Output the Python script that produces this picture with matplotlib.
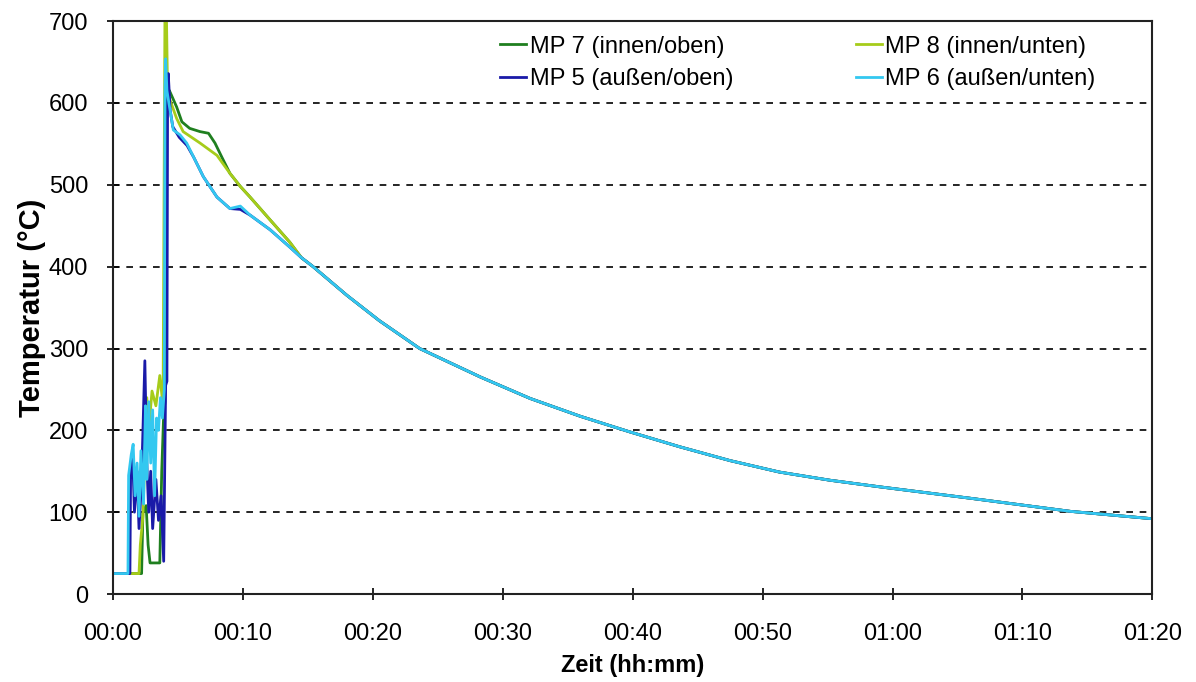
import numpy as np
import matplotlib
matplotlib.use("Agg")
import matplotlib.pyplot as plt
from matplotlib.ticker import FuncFormatter, MultipleLocator

plt.rcParams['font.family'] = ['Liberation Sans', 'DejaVu Sans']

# common cooling tail (minutes, degC), identical for all four points
tail_t = [14.5, 15.4, 18.0, 20.5, 23.6, 28.3, 32.1, 36.0, 39.8, 43.6, 47.5, 51.3, 55.2, 59.0, 66.0, 73.7, 80.0]
tail_T = [411, 400, 365, 334, 300, 265, 239, 217, 198, 180, 163, 149, 139, 131, 117, 101, 92]

# MP 7 (innen/oben)
mp7_t = [0, 2.2, 2.3, 2.55, 2.7, 2.85, 3.6, 3.75, 3.9, 4.0, 4.1, 4.3, 4.4, 4.9, 5.3, 5.9, 6.7, 7.35,
         7.85, 8.37, 9.0, 9.8, 10.55, 12.1, 13.6]
mp7_T = [25, 25, 100, 108, 60, 38, 38, 150, 220, 235, 590, 616, 613, 595, 577, 569, 565, 563,
         551, 534, 514, 498, 485, 457, 430]

# MP 8 (innen/unten)
mp8_t = [0, 2.0, 2.1, 2.3, 2.6, 2.75, 3.0, 3.3, 3.6, 3.85, 4.0, 4.1, 4.2, 4.4, 4.9, 5.4, 6.7, 8.0,
         9.0, 9.8, 10.55, 12.1, 13.6]
mp8_T = [25, 25, 60, 95, 240, 200, 248, 230, 267, 230, 720, 720, 612, 603, 581, 565, 551, 536,
         514, 498, 485, 457, 430]

# MP 5 (außen/oben)
mp5_t = [0, 1.3, 1.35, 1.5, 1.65, 1.85, 2.0, 2.2, 2.45, 2.6, 2.75, 2.9, 3.05, 3.3, 3.5, 3.7, 3.9,
         4.05, 4.15, 4.2, 4.25, 4.4, 4.6, 5.1, 5.7, 6.2, 6.95, 8.0, 9.0, 9.8, 10.55, 12.1, 13.6]
mp5_T = [25, 25, 140, 175, 100, 150, 80, 140, 285, 160, 100, 150, 80, 140, 90, 120, 40,
         255, 260, 610, 636, 591, 571, 558, 548, 534, 510, 485, 471, 470, 463, 445, 424]

# MP 6 (außen/unten)
mp6_t = [0, 1.15, 1.2, 1.4, 1.55, 1.7, 1.85, 2.0, 2.15, 2.35, 2.5, 2.6, 2.75, 2.9, 3.05, 3.2, 3.35,
         3.5, 3.65, 3.8, 3.95, 4.0, 4.05, 4.15, 4.3, 4.64, 5.16, 5.67, 6.2, 6.95, 8.0, 9.0, 9.8,
         10.55, 12.1, 13.6]
mp6_T = [25, 25, 145, 170, 183, 120, 160, 95, 175, 110, 230, 140, 235, 160, 225, 120, 215,
         200, 240, 215, 250, 620, 654, 615, 600, 567, 561, 551, 534, 510, 485, 471, 474,
         463, 445, 424]

series = [
    ("MP 7 (innen/oben)", mp7_t, mp7_T, "#1f7f1f"),
    ("MP 8 (innen/unten)", mp8_t, mp8_T, "#a6cc1a"),
    ("MP 5 (außen/oben)", mp5_t, mp5_T, "#1a1aa8"),
    ("MP 6 (außen/unten)", mp6_t, mp6_T, "#33c8f0"),
]

fig = plt.figure(figsize=(11.96, 6.82), dpi=100)
ax = fig.add_axes([0.0945, 0.129, 0.869, 0.840])

lines = {}
for label, t, T, color in series:
    lines[label], = ax.plot(t + tail_t, T + tail_T, color=color, lw=2.0, label=label)

ax.set_xlim(0, 80)
ax.set_ylim(0, 700)
ax.xaxis.set_major_locator(MultipleLocator(10))
ax.yaxis.set_major_locator(MultipleLocator(100))
ax.xaxis.set_major_formatter(FuncFormatter(lambda v, p: "%02d:%02d" % (int(v) // 60, int(v) % 60)))

for y in range(100, 700, 100):
    ax.axhline(y, color='black', lw=1.2, ls=(0, (4, 4)), zorder=0)

for s in ax.spines.values():
    s.set_linewidth(1.5)
    s.set_color('#222222')
ax.tick_params(direction='inout', length=8, width=1.2, labelsize=17)
ax.tick_params(axis='x', pad=17)
ax.tick_params(axis='y', pad=14)

ax.set_xlabel("Zeit (hh:mm)", fontsize=17, fontweight='bold', labelpad=6)
ax.set_ylabel("Temperatur (°C)", fontsize=21, fontweight='bold', labelpad=2)

order = ["MP 7 (innen/oben)", "MP 5 (außen/oben)", "MP 8 (innen/unten)", "MP 6 (außen/unten)"]
ax.legend([lines[k] for k in order], order, ncol=2, frameon=False, fontsize=17,
          loc='upper left', bbox_to_anchor=(0.352, 1.012), handlelength=1.1, handletextpad=0.15,
          columnspacing=5.2, labelspacing=0.45)

fig.savefig("out.png", dpi=100)
